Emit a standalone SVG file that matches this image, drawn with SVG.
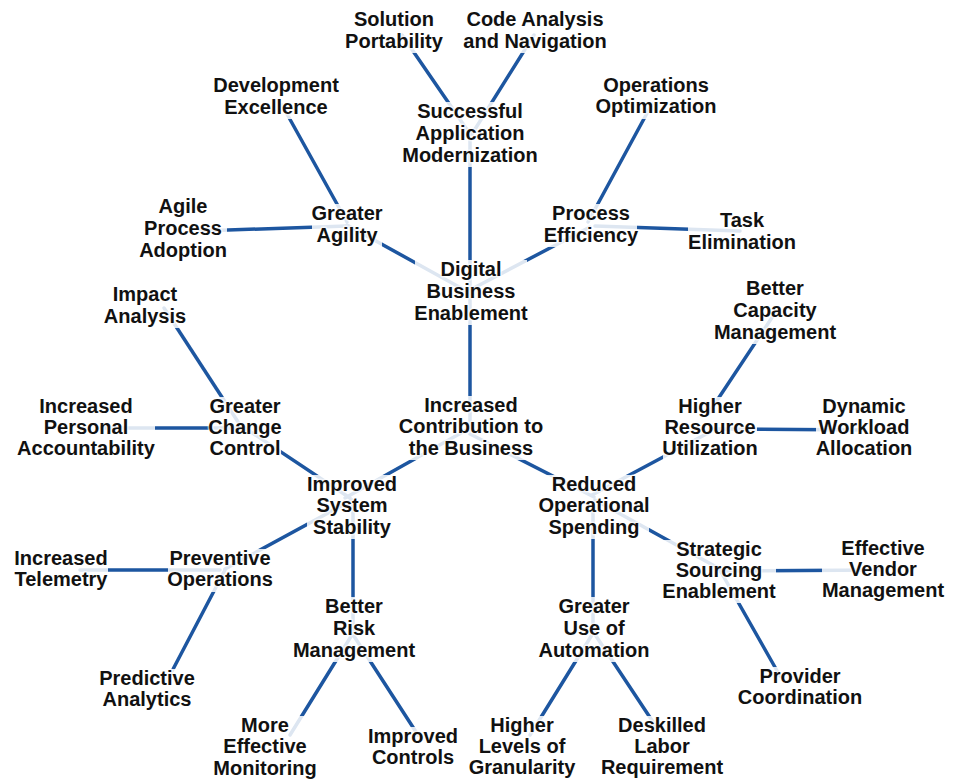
<svg xmlns="http://www.w3.org/2000/svg" width="961" height="780" viewBox="0 0 961 780">
<style>
.bg{fill:#fff}
.ln{stroke:#1d56a0;stroke-width:3.5;stroke-linecap:round;fill:none}
.bx{fill:#fff;fill-opacity:0.85}
.t{font-family:"Liberation Sans",Arial,sans-serif;font-weight:bold;font-size:20px;fill:#111;text-anchor:middle;stroke:#fff;stroke-width:3;stroke-opacity:0.6;paint-order:stroke;stroke-linejoin:round}
</style>
<rect class="bg" x="0" y="0" width="961" height="780"/>
<g id="connectors">
<line class="ln" x1="402" y1="35" x2="470" y2="134"/>
<line class="ln" x1="534" y1="35" x2="472" y2="134"/>
<line class="ln" x1="470" y1="140" x2="470" y2="430"/>
<line class="ln" x1="282" y1="105" x2="347" y2="222"/>
<line class="ln" x1="200" y1="231" x2="347" y2="226"/>
<line class="ln" x1="347" y1="225" x2="470" y2="293"/>
<line class="ln" x1="652" y1="104" x2="588" y2="222"/>
<line class="ln" x1="595" y1="226" x2="740" y2="231"/>
<line class="ln" x1="590" y1="227" x2="470" y2="290"/>
<line class="ln" x1="164" y1="308" x2="242" y2="428"/>
<line class="ln" x1="100" y1="428" x2="245" y2="428"/>
<line class="ln" x1="245" y1="428" x2="350" y2="498"/>
<line class="ln" x1="470" y1="428" x2="345" y2="498"/>
<line class="ln" x1="470" y1="434" x2="594" y2="497"/>
<line class="ln" x1="710" y1="432" x2="592" y2="495"/>
<line class="ln" x1="775" y1="313" x2="708" y2="414"/>
<line class="ln" x1="710" y1="429" x2="862" y2="430"/>
<line class="ln" x1="352" y1="500" x2="225" y2="569"/>
<line class="ln" x1="353" y1="505" x2="353" y2="630"/>
<line class="ln" x1="80" y1="570" x2="220" y2="570"/>
<line class="ln" x1="225" y1="570" x2="170" y2="675"/>
<line class="ln" x1="355" y1="630" x2="290" y2="735"/>
<line class="ln" x1="350" y1="630" x2="418" y2="735"/>
<line class="ln" x1="593" y1="505" x2="593" y2="630"/>
<line class="ln" x1="595" y1="500" x2="720" y2="569"/>
<line class="ln" x1="720" y1="571" x2="880" y2="570"/>
<line class="ln" x1="721" y1="572" x2="780" y2="676"/>
<line class="ln" x1="595" y1="630" x2="530" y2="735"/>
<line class="ln" x1="592" y1="630" x2="657" y2="728"/>
</g>
<g id="n-solution-portability"><rect class="bx" x="345" y="10" width="98" height="43"/><text class="t"><tspan x="394" y="26">Solution</tspan><tspan x="394" y="48">Portability</tspan></text></g>
<g id="n-code-analysis"><rect class="bx" x="462" y="10" width="146" height="43"/><text class="t"><tspan x="535" y="26">Code Analysis</tspan><tspan x="535" y="48">and Navigation</tspan></text></g>
<g id="n-successful-app-mod"><rect class="bx" x="403" y="102" width="134" height="65"/><text class="t"><tspan x="470" y="118">Successful</tspan><tspan x="470" y="140">Application</tspan><tspan x="470" y="162">Modernization</tspan></text></g>
<g id="n-development-excellence"><rect class="bx" x="214" y="76" width="124" height="43"/><text class="t"><tspan x="276" y="92">Development</tspan><tspan x="276" y="114">Excellence</tspan></text></g>
<g id="n-operations-optimization"><rect class="bx" x="596" y="76" width="120" height="43"/><text class="t"><tspan x="656" y="92">Operations</tspan><tspan x="656" y="113">Optimization</tspan></text></g>
<g id="n-agile-process-adoption"><rect class="bx" x="139" y="197" width="88" height="65"/><text class="t"><tspan x="183" y="213">Agile</tspan><tspan x="183" y="235">Process</tspan><tspan x="183" y="257">Adoption</tspan></text></g>
<g id="n-greater-agility"><rect class="bx" x="312" y="204" width="70" height="43"/><text class="t"><tspan x="347" y="220">Greater</tspan><tspan x="347" y="242">Agility</tspan></text></g>
<g id="n-process-efficiency"><rect class="bx" x="545" y="204" width="92" height="43"/><text class="t"><tspan x="591" y="220">Process</tspan><tspan x="591" y="242">Efficiency</tspan></text></g>
<g id="n-task-elimination"><rect class="bx" x="688" y="211" width="108" height="43"/><text class="t"><tspan x="742" y="227">Task</tspan><tspan x="742" y="249">Elimination</tspan></text></g>
<g id="n-digital-business-enablement"><rect class="bx" x="415" y="260" width="112" height="65"/><text class="t"><tspan x="471" y="276">Digital</tspan><tspan x="471" y="298">Business</tspan><tspan x="471" y="320">Enablement</tspan></text></g>
<g id="n-better-capacity-management"><rect class="bx" x="714" y="279" width="122" height="65"/><text class="t"><tspan x="775" y="295">Better</tspan><tspan x="775" y="317">Capacity</tspan><tspan x="775" y="339">Management</tspan></text></g>
<g id="n-impact-analysis"><rect class="bx" x="107" y="285" width="76" height="43"/><text class="t"><tspan x="145" y="301">Impact</tspan><tspan x="145" y="323">Analysis</tspan></text></g>
<g id="n-increased-personal-accountability"><rect class="bx" x="17" y="397" width="138" height="63"/><text class="t"><tspan x="86" y="413">Increased</tspan><tspan x="86" y="434">Personal</tspan><tspan x="86" y="455">Accountability</tspan></text></g>
<g id="n-greater-change-control"><rect class="bx" x="209" y="397" width="72" height="63"/><text class="t"><tspan x="245" y="413">Greater</tspan><tspan x="245" y="434">Change</tspan><tspan x="245" y="455">Control</tspan></text></g>
<g id="n-increased-contribution"><rect class="bx" x="399" y="396" width="144" height="64"/><text class="t"><tspan x="471" y="412">Increased</tspan><tspan x="471" y="433">Contribution to</tspan><tspan x="471" y="455">the Business</tspan></text></g>
<g id="n-higher-resource-utilization"><rect class="bx" x="663" y="397" width="94" height="63"/><text class="t"><tspan x="710" y="413">Higher</tspan><tspan x="710" y="434">Resource</tspan><tspan x="710" y="455">Utilization</tspan></text></g>
<g id="n-dynamic-workload-allocation"><rect class="bx" x="816" y="397" width="96" height="63"/><text class="t"><tspan x="864" y="413">Dynamic</tspan><tspan x="864" y="434">Workload</tspan><tspan x="864" y="455">Allocation</tspan></text></g>
<g id="n-improved-system-stability"><rect class="bx" x="307" y="475" width="90" height="64"/><text class="t"><tspan x="352" y="491">Improved</tspan><tspan x="352" y="512">System</tspan><tspan x="352" y="534">Stability</tspan></text></g>
<g id="n-reduced-operational-spending"><rect class="bx" x="539" y="475" width="110" height="64"/><text class="t"><tspan x="594" y="491">Reduced</tspan><tspan x="594" y="512">Operational</tspan><tspan x="594" y="534">Spending</tspan></text></g>
<g id="n-increased-telemetry"><rect class="bx" x="14" y="549" width="94" height="43"/><text class="t"><tspan x="61" y="565">Increased</tspan><tspan x="61" y="586">Telemetry</tspan></text></g>
<g id="n-preventive-operations"><rect class="bx" x="168" y="549" width="104" height="43"/><text class="t"><tspan x="220" y="565">Preventive</tspan><tspan x="220" y="586">Operations</tspan></text></g>
<g id="n-strategic-sourcing-enablement"><rect class="bx" x="662" y="540" width="114" height="63"/><text class="t"><tspan x="719" y="556">Strategic</tspan><tspan x="719" y="577">Sourcing</tspan><tspan x="719" y="598">Enablement</tspan></text></g>
<g id="n-effective-vendor-management"><rect class="bx" x="822" y="539" width="122" height="63"/><text class="t"><tspan x="883" y="555">Effective</tspan><tspan x="883" y="576">Vendor</tspan><tspan x="883" y="597">Management</tspan></text></g>
<g id="n-better-risk-management"><rect class="bx" x="293" y="597" width="122" height="65"/><text class="t"><tspan x="354" y="613">Better</tspan><tspan x="354" y="635">Risk</tspan><tspan x="354" y="657">Management</tspan></text></g>
<g id="n-greater-use-of-automation"><rect class="bx" x="539" y="597" width="110" height="65"/><text class="t"><tspan x="594" y="613">Greater</tspan><tspan x="594" y="635">Use of</tspan><tspan x="594" y="657">Automation</tspan></text></g>
<g id="n-predictive-analytics"><rect class="bx" x="99" y="669" width="96" height="43"/><text class="t"><tspan x="147" y="685">Predictive</tspan><tspan x="147" y="706">Analytics</tspan></text></g>
<g id="n-provider-coordination"><rect class="bx" x="738" y="667" width="124" height="43"/><text class="t"><tspan x="800" y="683">Provider</tspan><tspan x="800" y="704">Coordination</tspan></text></g>
<g id="n-more-effective-monitoring"><rect class="bx" x="218" y="716" width="94" height="64"/><text class="t"><tspan x="265" y="732">More</tspan><tspan x="265" y="753">Effective</tspan><tspan x="265" y="775">Monitoring</tspan></text></g>
<g id="n-improved-controls"><rect class="bx" x="368" y="727" width="90" height="43"/><text class="t"><tspan x="413" y="743">Improved</tspan><tspan x="413" y="764">Controls</tspan></text></g>
<g id="n-higher-levels-of-granularity"><rect class="bx" x="469" y="716" width="106" height="64"/><text class="t"><tspan x="522" y="732">Higher</tspan><tspan x="522" y="753">Levels of</tspan><tspan x="522" y="774">Granularity</tspan></text></g>
<g id="n-deskilled-labor-requirement"><rect class="bx" x="602" y="716" width="120" height="64"/><text class="t"><tspan x="662" y="732">Deskilled</tspan><tspan x="662" y="753">Labor</tspan><tspan x="662" y="774">Requirement</tspan></text></g>
</svg>
